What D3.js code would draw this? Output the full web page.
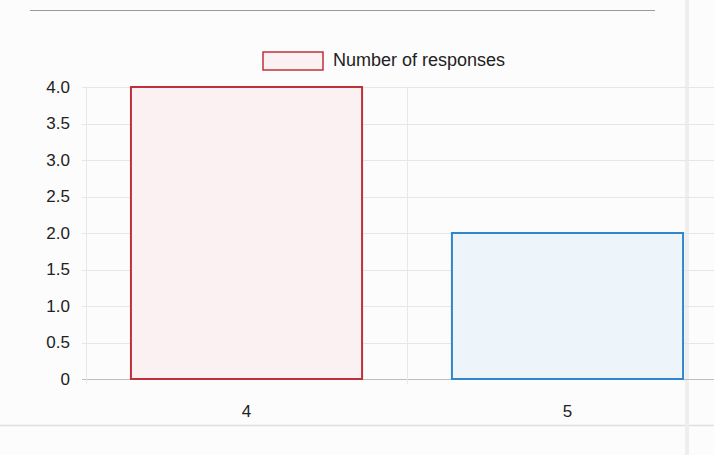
<!DOCTYPE html>
<html>
<head>
<meta charset="utf-8">
<script src="https://cdn.jsdelivr.net/npm/d3@7"></script>
<style>
  html, body { margin: 0; padding: 0; background: #fcfcfc; }
  svg { display: block; font-family: "Liberation Sans", Arial, sans-serif; }
</style>
</head>
<body>
<svg id="chart" width="714" height="455"></svg>
<script>
const categories = ["4", "5"];
const values = [4, 2];
const yTicks = [0, 0.5, 1.0, 1.5, 2.0, 2.5, 3.0, 3.5, 4.0];
const seriesName = "Number of responses";
const strokeColors = ["#c0303a", "#2f86cc"];
const fillColors = ["#fbf1f3", "#eef5fa"];

const svg = d3.select("#chart");
const plotLeft = 86, plotTop = 87, plotBottom = 379;
const bandRight = 728;

const x = d3.scaleBand().domain(categories).range([plotLeft, bandRight]).paddingInner(0).paddingOuter(0);
const y = d3.scaleLinear().domain([0, 4]).range([plotBottom, plotTop]);

// frame lines (page)
svg.append("line").attr("x1", 30).attr("x2", 655).attr("y1", 10.5).attr("y2", 10.5)
  .attr("stroke", "#9a9a9a").attr("stroke-width", 1);
svg.append("line").attr("x1", 0).attr("x2", 714).attr("y1", 425.5).attr("y2", 425.5)
  .attr("stroke", "#dedede").attr("stroke-width", 1.5);
svg.append("line").attr("x1", 687).attr("x2", 687).attr("y1", 0).attr("y2", 455)
  .attr("stroke", "#eeeeee").attr("stroke-width", 4);

// horizontal grid
svg.append("g").selectAll("line").data(yTicks).join("line")
  .attr("x1", plotLeft - 4).attr("x2", 714)
  .attr("y1", d => Math.round(y(d)) + 0.5).attr("y2", d => Math.round(y(d)) + 0.5)
  .attr("stroke", d => d === 0 ? "#bdbdbd" : "#e6e6e6").attr("stroke-width", 1);

// vertical grid (category boundaries)
const vlines = [plotLeft, x("5")];
svg.append("g").selectAll("line").data(vlines).join("line")
  .attr("x1", d => d + 0.5).attr("x2", d => d + 0.5)
  .attr("y1", plotTop).attr("y2", plotBottom + 5)
  .attr("stroke", "#e8e8e8").attr("stroke-width", 1);

// y axis labels
const yAxis = d3.axisLeft(y).tickValues(yTicks).tickSize(0).tickPadding(16)
  .tickFormat(d => d === 0 ? "0" : d3.format(".1f")(d));
const yg = svg.append("g").attr("transform", `translate(${plotLeft},0)`).call(yAxis);
yg.select(".domain").remove();
yg.selectAll("text").attr("font-size", 17).attr("fill", "#222")
  .attr("font-family", "'Liberation Sans', Arial, sans-serif");

// x axis labels
const xAxis = d3.axisBottom(x).tickSize(0).tickPadding(26);
const xg = svg.append("g").attr("transform", `translate(0,${plotBottom})`).call(xAxis);
xg.select(".domain").remove();
xg.selectAll("text").attr("font-size", 17).attr("fill", "#222")
  .attr("font-family", "'Liberation Sans', Arial, sans-serif");

// bars (72% of band)
const bw = x.bandwidth() * 0.72;
svg.append("g").selectAll("rect").data(values).join("rect")
  .attr("x", (d, i) => x(categories[i]) + (x.bandwidth() - bw) / 2)
  .attr("y", d => y(d))
  .attr("width", bw)
  .attr("height", d => y(0) - y(d))
  .attr("fill", (d, i) => fillColors[i])
  .attr("stroke", (d, i) => strokeColors[i])
  .attr("stroke-width", 2);

// legend
const lg = svg.append("g");
lg.append("rect").attr("x", 263).attr("y", 52).attr("width", 60).attr("height", 18)
  .attr("fill", fillColors[0]).attr("stroke", strokeColors[0]).attr("stroke-width", 1.5);
lg.append("text").attr("x", 333).attr("y", 66).attr("font-size", 18).attr("fill", "#222")
  .text(seriesName);
</script>
</body>
</html>
